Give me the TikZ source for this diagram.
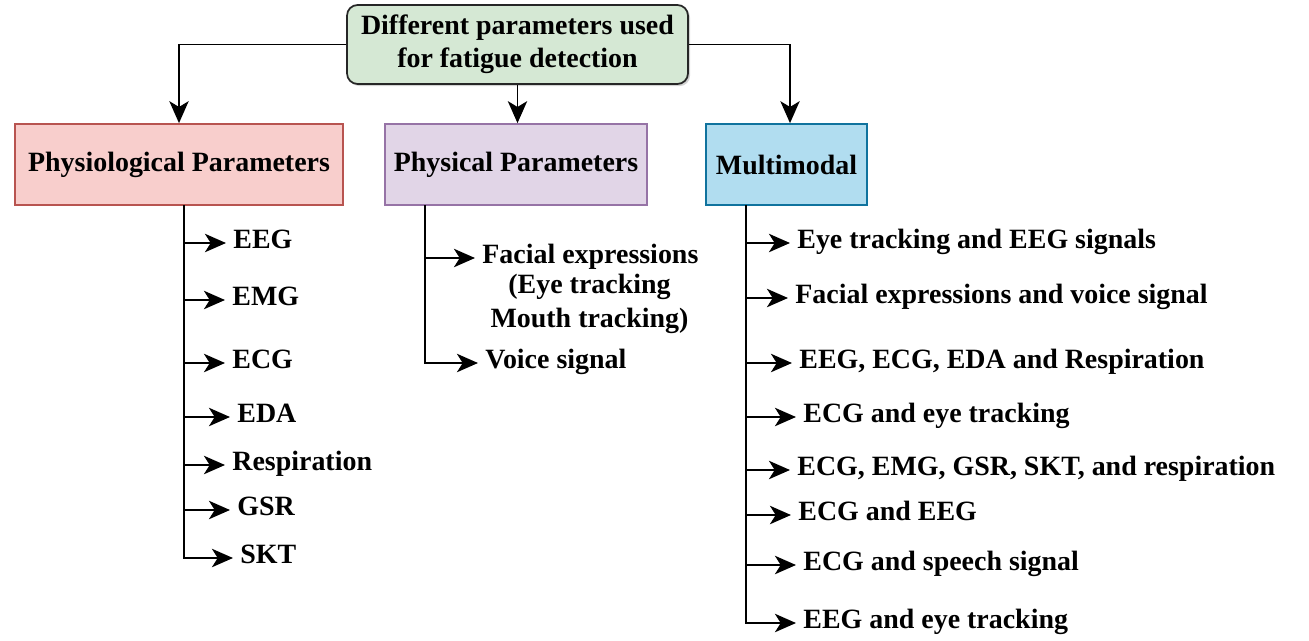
\documentclass[tikz,border=0pt]{standalone}
\usepackage{fontspec}
\setmainfont{Liberation Serif}
\usetikzlibrary{arrows.meta,shadows}
\definecolor{rootfill}{HTML}{D5E8D4}
\definecolor{physiofill}{HTML}{F8CECC}
\definecolor{physiodraw}{HTML}{B85450}
\definecolor{physfill}{HTML}{E1D5E7}
\definecolor{physdraw}{HTML}{9673A6}
\definecolor{multifill}{HTML}{B1DDF0}
\definecolor{multidraw}{HTML}{10739E}
\begin{document}
\begin{tikzpicture}[x=0.02cm,y=-0.02cm,
  every node/.style={font=\fontsize{15.9}{18.6}\selectfont\bfseries},
  rootbox/.style={draw=black!85, fill=rootfill, line width=1pt, rounded corners=6pt,
    minimum width=6.82cm, minimum height=1.58cm, align=center, inner sep=0pt,
    drop shadow={opacity=0.35, shadow xshift=1.2pt, shadow yshift=-1.2pt}},
  catbox/.style={line width=1pt, minimum height=1.62cm, inner sep=0pt},
  item/.style={anchor=west, inner xsep=4pt, inner ysep=0pt, text height=0.68em, text depth=0pt},
  subline/.style={inner sep=0pt, text height=0.68em, text depth=0pt},
  wire/.style={line width=0.9pt},
  link/.style={wire, arrows={-Stealth[length=12pt,width=10.5pt,inset=3.3pt]}},
  drop/.style={wire, arrows={-Stealth[length=12.5pt,width=11pt,inset=3.3pt]}}]

\path[use as bounding box] (0,0) rectangle (1309,640);

% root and the three parameter groups
\node[rootbox] (root) at (517.5,44.5) {Different parameters used\\for fatigue detection};
\node[catbox, draw=physiodraw, fill=physiofill, minimum width=6.56cm] (physio) at (179,164.5) {Physiological Parameters};
\node[catbox, draw=physdraw, fill=physfill, minimum width=5.24cm] (phys) at (516,164.5) {Physical Parameters};
\node[catbox, draw=multidraw, fill=multifill, minimum width=3.22cm] (multi) at (786.5,164.5) {Multimodal};

\draw[drop] (root.west) -| (physio.north);
\draw[drop] (root.south) -- (root.south |- phys.north);
\draw[drop] (root.east) -| ([xshift=2pt]multi.north);

% physiological signals
\coordinate (b1) at (184,205);
\node[item] (eeg)  at (226,243) {EEG};
\node[item] (emg)  at (225,300) {EMG};
\node[item] (ecg)  at (225,363) {ECG};
\node[item] (eda)  at (230,417) {EDA};
\node[item] (resp) at (225,465) {Respiration};
\node[item] (gsr)  at (230,510) {GSR};
\node[item] (skt)  at (233,558) {SKT};
\foreach \n in {eeg,emg,ecg,eda,resp,gsr}
  \draw[link] (b1 |- \n.west) -- (\n.west);
\draw[link] (b1) |- (skt.west);

% physical signals
\coordinate (b2) at (425,205);
\node[item] (face) at (475,258) {Facial expressions};
\node[subline] (face2) at (589.5,288) {(Eye tracking};
\node[subline] (face3) at (589.5,322) {Mouth tracking)};
\node[item] (voice) at (478,363) {Voice signal};
\draw[link] (b2 |- face.west) -- (face.west);
\draw[link] (b2) |- (voice.west);

% multimodal combinations
\coordinate (b3) at (746,205);
\node[item] (m1) at (790,243) {Eye tracking and EEG signals};
\node[item] (m2) at (788,298) {Facial expressions and voice signal};
\node[item] (m3) at (792,363) {EEG, ECG, EDA and Respiration};
\node[item] (m4) at (796,417) {ECG and eye tracking};
\node[item] (m5) at (790,470) {ECG, EMG, GSR, SKT, and respiration};
\node[item] (m6) at (791,515) {ECG and EEG};
\node[item] (m7) at (796,565) {ECG and speech signal};
\node[item] (m8) at (796,623) {EEG and eye tracking};
\foreach \n in {m1,m2,m3,m4,m5,m6,m7}
  \draw[link] (b3 |- \n.west) -- (\n.west);
\draw[link] (b3) |- (m8.west);
\end{tikzpicture}
\end{document}
